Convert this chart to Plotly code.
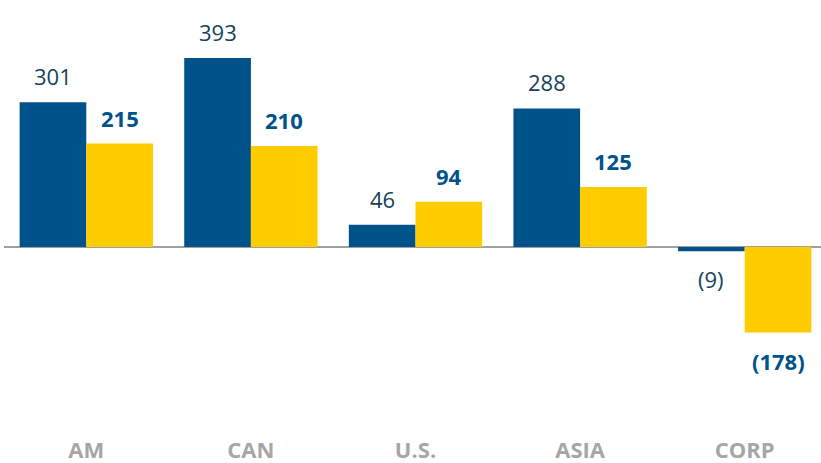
import plotly.graph_objects as go

categories = ["AM", "CAN", "U.S.", "ASIA", "CORP"]
series_a = [301, 393, 46, 288, -9]
series_b = [215, 210, 94, 125, -178]

def fmt(v):
    return f"({abs(v)})" if v < 0 else f"{v}"

BLUE = "#00528A"
YELLOW = "#FFCC00"
bargap = 0.19
bw = (1 - bargap) / 2
xs = list(range(len(categories)))

fig = go.Figure()
fig.add_trace(go.Bar(x=xs, y=series_a, marker=dict(color=BLUE, line=dict(width=0)), name="A",
                     hoverinfo="skip"))
fig.add_trace(go.Bar(x=xs, y=series_b, marker=dict(color=YELLOW, line=dict(width=0)), name="B",
                     hoverinfo="skip"))

ann = []
for i, (a, b) in enumerate(zip(series_a, series_b)):
    ann.append(dict(x=i - bw / 2, y=a, xref="x", yref="y", text=fmt(a), showarrow=False,
                    yshift=26 if a >= 0 else -28,
                    font=dict(family="Open Sans", size=22, color="#15435A")))
    ann.append(dict(x=i + bw / 2, y=b, xref="x", yref="y", text=f"<b>{fmt(b)}</b>", showarrow=False,
                    yshift=26 if b >= 0 else -28,
                    font=dict(family="Open Sans", size=22, color=BLUE)))

fig.update_layout(
    width=821, height=463,
    margin=dict(l=4, r=0, t=0, b=28),
    barmode="group", bargap=bargap, bargroupgap=0,
    plot_bgcolor="white", paper_bgcolor="white",
    showlegend=False,
    annotations=ann,
    xaxis=dict(range=[-0.5, -0.5 + 817 / 164.6], tickvals=xs,
               ticktext=[f"<b>{c}</b>" for c in categories],
               tickfont=dict(family="Open Sans", size=22, color="#A6A6A6"),
               showgrid=False, zeroline=False, showline=False, ticks=""),
    yaxis=dict(range=[-(435 - 247) / 0.481, 247 / 0.481], visible=True,
               showticklabels=False, showgrid=False, zeroline=True,
               zerolinecolor="#A0A0A0", zerolinewidth=2, showline=False, ticks=""),
)
fig.write_html("out.html", config={"displayModeBar": False},
               post_script="document.body.style.margin='0';")
